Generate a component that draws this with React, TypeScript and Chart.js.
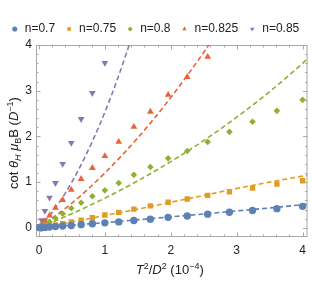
import React, { useEffect, useRef } from "react";
import { Chart, registerables } from "chart.js";
Chart.register(...registerables);

// ---- data ----
const T2 = [0.01, 0.04, 0.09, 0.16, 0.25, 0.36, 0.49, 0.64, 0.81, 1.0, 1.21, 1.44, 1.69, 1.96, 2.25, 2.56, 2.89, 3.24, 3.61, 4.0];
const n070 = [0.0, 0.0, 0.01, 0.02, 0.03, 0.04, 0.05, 0.07, 0.09, 0.11, 0.13, 0.16, 0.19, 0.23, 0.26, 0.3, 0.34, 0.38, 0.42, 0.47];
const n075 = [0.0, 0.01, 0.02, 0.04, 0.06, 0.09, 0.13, 0.17, 0.22, 0.28, 0.34, 0.41, 0.48, 0.56, 0.63, 0.71, 0.79, 0.87, 0.96, 1.03];
const n080 = [0.01, 0.03, 0.07, 0.13, 0.21, 0.31, 0.43, 0.55, 0.69, 0.82, 0.98, 1.16, 1.33, 1.52, 1.68, 1.88, 2.1, 2.32, 2.56, 2.8];
const n0825 = [0.02, 0.07, 0.15, 0.27, 0.44, 0.61, 0.83, 1.07, 1.31, 1.57, 1.88, 2.21, 2.54, 2.91, 3.3, 3.74];
const n085 = [0.04, 0.17, 0.37, 0.66, 0.98, 1.4, 1.86, 2.38, 2.95, 3.61];

const fit070X = [0, 1, 2, 3, 4, 4.1];
const fit070Y = [0, 0.115, 0.24, 0.37, 0.51, 0.53];
const fit075X = [0, 0.5, 1, 1.5, 2, 2.5, 3, 3.5, 4.1];
const fit075Y = [0, 0.13, 0.27, 0.41, 0.56, 0.71, 0.86, 1.0, 1.16];
const fit080X = [0, 0.5, 1, 1.5, 2, 2.5, 3, 3.5, 4, 4.1];
const fit080Y = [0, 0.31, 0.65, 1.03, 1.45, 1.91, 2.42, 2.98, 3.6, 3.74];
const fit0825X = [0, 0.5, 1, 1.5, 2, 2.5, 2.7];
const fit0825Y = [0, 0.54, 1.2, 1.97, 2.85, 3.84, 4.27];
const fit085X = [0, 0.2, 0.4, 0.6, 0.8, 1.0, 1.2, 1.4];
const fit085Y = [0, 0.34, 0.76, 1.27, 1.86, 2.53, 3.29, 4.13];

const LABELS = ["n=0.7", "n=0.75", "n=0.8", "n=0.825", "n=0.85"];
const COLORS = ["#5E81B5", "#E19C24", "#8FB032", "#EB6235", "#8778B3"];
const X_TICKS = [0, 1, 2, 3, 4];
const Y_TICKS = [0, 1, 2, 3, 4];

const FONT = '"Liberation Sans", Arial, sans-serif';

type Seg = { t: string; it?: boolean; s?: "sub" | "sup" };

function drawRich(ctx: CanvasRenderingContext2D, segs: Seg[], cx: number, cy: number, size: number, rotate: boolean) {
  ctx.save();
  ctx.translate(cx, cy);
  if (rotate) ctx.rotate(-Math.PI / 2);
  const fontFor = (s: Seg) => `${s.it ? "italic " : ""}${s.s ? Math.round(size * 0.72) : size}px ${FONT}`;
  let total = 0;
  const widths = segs.map((s) => {
    ctx.font = fontFor(s);
    const w = ctx.measureText(s.t).width;
    total += w;
    return w;
  });
  let x = -total / 2;
  ctx.textBaseline = "alphabetic";
  ctx.textAlign = "left";
  ctx.fillStyle = "#222";
  segs.forEach((s, i) => {
    ctx.font = fontFor(s);
    const dy = s.s === "sub" ? size * 0.28 : s.s === "sup" ? -size * 0.38 : 0;
    ctx.fillText(s.t, x, size * 0.36 + dy);
    x += widths[i];
  });
  ctx.restore();
}

const framePlugin = {
  id: "frame",
  beforeDatasetsDraw(chart: any) {
    const { ctx, chartArea: a, scales } = chart;
    const xs = scales.x;
    const ys = scales.y;
    ctx.save();
    ctx.strokeStyle = "#a8a8a8";
    ctx.lineWidth = 1;
    ctx.strokeRect(a.left + 0.5, a.top + 0.5, a.right - a.left - 1, a.bottom - a.top - 1);
    ctx.beginPath();
    for (let i = 0; i <= 20; i++) {
      const v = i / 5;
      const len = i % 5 === 0 ? 4.5 : 2.5;
      const px = Math.round(xs.getPixelForValue(v)) + 0.5;
      ctx.moveTo(px, a.bottom);
      ctx.lineTo(px, a.bottom - len);
      ctx.moveTo(px, a.top);
      ctx.lineTo(px, a.top + len);
      const py = Math.round(ys.getPixelForValue(v)) + 0.5;
      ctx.moveTo(a.left, py);
      ctx.lineTo(a.left + len, py);
      ctx.moveTo(a.right, py);
      ctx.lineTo(a.right - len, py);
    }
    ctx.stroke();
    ctx.restore();
  },
  afterDraw(chart: any) {
    const { ctx, chartArea: a } = chart;
    drawRich(
      ctx,
      [
        { t: "cot " },
        { t: "θ", it: true },
        { t: "H", it: true, s: "sub" },
        { t: " " },
        { t: "μ", it: true },
        { t: "B", s: "sub" },
        { t: "B (" },
        { t: "D", it: true },
        { t: "−1", s: "sup" },
        { t: ")" },
      ],
      13,
      (a.top + a.bottom) / 2 + 2,
      13,
      true
    );
    drawRich(
      ctx,
      [
        { t: "T", it: true },
        { t: "2", s: "sup" },
        { t: "/" },
        { t: "D", it: true },
        { t: "2", s: "sup" },
        { t: " (10" },
        { t: "−4", s: "sup" },
        { t: ")" },
      ],
      (a.left + a.right) / 2 - 2,
      269,
      13,
      false
    );
  },
};

export default function App() {
  const ref = useRef<HTMLCanvasElement | null>(null);
  useEffect(() => {
    document.body.style.margin = "0";
    const pts = (ys: number[]) => ys.map((y, i) => ({ x: T2[i], y }));
    const line = (xs: number[], ys: number[]) => xs.map((x, i) => ({ x, y: ys[i] }));
    const series = [n070, n075, n080, n0825, n085];
    const styles = ["circle", "rect", "rectRot", "triangle", "triangle"];
    const radii = [3.7, 3.8, 3.3, 3.9, 3.9];
    const rots = [0, 0, 0, 0, 180];
    const fits = [
      [fit070X, fit070Y],
      [fit075X, fit075Y],
      [fit080X, fit080Y],
      [fit0825X, fit0825Y],
      [fit085X, fit085Y],
    ];
    const datasets: any[] = [];
    series.forEach((s, i) => {
      datasets.push({
        label: LABELS[i],
        data: pts(s),
        pointStyle: styles[i],
        pointRadius: radii[i],
        pointRotation: rots[i],
        backgroundColor: COLORS[i],
        borderColor: COLORS[i],
        borderWidth: 0,
        pointBorderWidth: 0,
        showLine: false,
      });
    });
    fits.forEach(([fx, fy], i) => {
      datasets.push({
        label: "fit " + LABELS[i],
        data: line(fx, fy),
        showLine: true,
        pointRadius: 0,
        borderColor: COLORS[i],
        backgroundColor: COLORS[i],
        borderWidth: 1.6,
        borderDash: [5, 3],
        cubicInterpolationMode: "monotone",
        fill: false,
      });
    });
    const chart = new Chart(ref.current as HTMLCanvasElement, {
      type: "scatter",
      data: { datasets },
      options: {
        animation: false,
        responsive: false,
        devicePixelRatio: 1,
        events: [],
        layout: { padding: { left: 0, right: 2, top: 2, bottom: 0 } },
        plugins: {
          tooltip: { enabled: false },
          legend: {
            position: "top",
            labels: {
              usePointStyle: true,
              boxWidth: 8,
              boxHeight: 3.6,
              padding: 10,
              color: "#222",
              font: { size: 12, family: FONT },
              filter: (item: any) => item.datasetIndex < 5,
            },
          },
        },
        scales: {
          x: {
            type: "linear",
            min: -0.045,
            max: 4.075,
            grid: { display: false, drawTicks: false },
            border: { display: false },
            afterBuildTicks: (s: any) => {
              s.ticks = X_TICKS.map((v) => ({ value: v }));
            },
            afterFit: (s: any) => {
              s.height = 47;
            },
            ticks: {
              padding: 6,
              color: "#222",
              font: { size: 12, family: FONT },
              maxRotation: 0,
              callback: (v: any) => String(v),
            },
          },
          y: {
            type: "linear",
            min: -0.2,
            max: 4,
            grid: { display: false, drawTicks: false },
            border: { display: false },
            afterBuildTicks: (s: any) => {
              s.ticks = Y_TICKS.map((v) => ({ value: v }));
            },
            afterFit: (s: any) => {
              s.width = 36;
              s.paddingTop = 45;
            },
            ticks: {
              padding: 4,
              color: "#222",
              font: { size: 12, family: FONT },
              callback: (v: any) => String(v),
            },
          },
        },
      },
      plugins: [framePlugin],
    });
    return () => chart.destroy();
  }, []);
  return (
    <div style={{ width: 312, height: 284 }}>
      <canvas ref={ref} width={312} height={284} />
    </div>
  );
}
